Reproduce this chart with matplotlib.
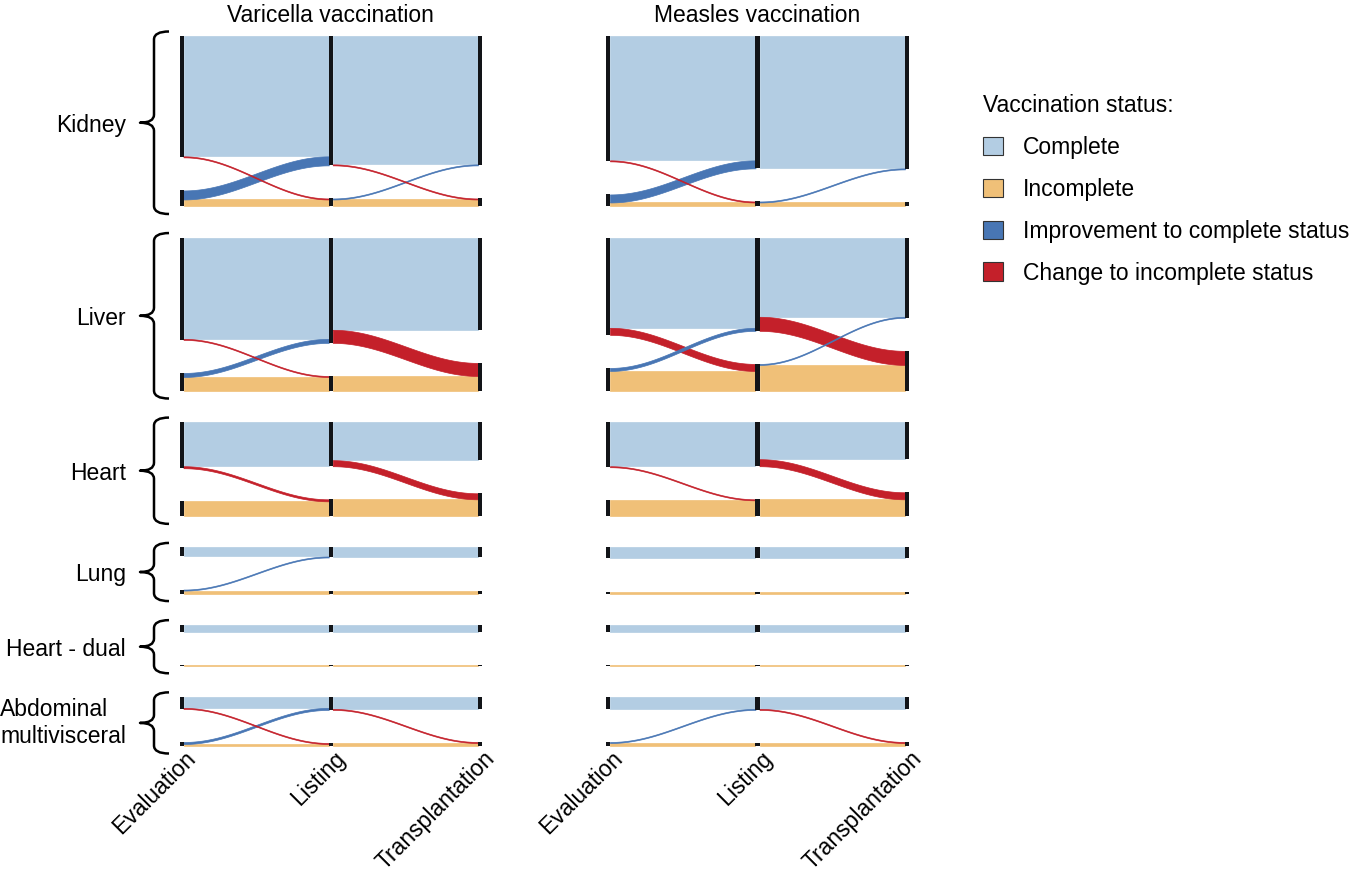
import numpy as np
import matplotlib
matplotlib.use("Agg")
import matplotlib.pyplot as plt
from matplotlib.path import Path
from matplotlib.patches import PathPatch, Patch

plt.rcParams['font.family'] = ['Liberation Sans', 'DejaVu Sans']

# ---------------- data ----------------
organs = ["Kidney", "Liver", "Heart", "Lung", "Heart - dual", "Abdominal\nmultivisceral"]
stages = ["Evaluation", "Listing", "Transplantation"]
vaccines = ["Varicella vaccination", "Measles vaccination"]
status_labels = ["Complete", "Incomplete", "Improvement to complete status",
                 "Change to incomplete status"]

# flows per organ: [complete->complete, complete->incomplete,
#                   incomplete->complete, incomplete->incomplete]
varicella_eval_to_listing = [[120, 1, 9, 7], [101, 1, 4, 14], [44, 2, 0, 15],
                             [9, 0, 1, 3], [7, 0, 0, 1], [11, 1, 2, 2]]
varicella_listing_to_tx = [[128, 1, 1, 7], [92, 13, 0, 15], [38, 6, 0, 17],
                           [10, 0, 0, 3], [7, 0, 0, 1], [12, 1, 0, 3]]
measles_eval_to_listing = [[124, 1, 8, 4], [90, 7, 3, 20], [44, 1, 0, 16],
                           [11, 0, 0, 2], [7, 0, 0, 1], [12, 0, 1, 3]]
measles_listing_to_tx = [[132, 0, 1, 4], [79, 14, 1, 26], [37, 7, 0, 17],
                         [11, 0, 0, 2], [7, 0, 0, 1], [12, 1, 0, 3]]

C_COMPLETE = "#B3CDE3"
C_INCOMPLETE = "#F0C078"
C_IMPROVE = "#4876B4"
C_WORSE = "#C4202A"
C_BAR = "#121418"

# ---------------- layout ----------------
STRATUM_GAP = 33
BLOCK_GAP = 31
FS = 16.5
W, H = 1355, 874

N = [sum(r) for r in varicella_eval_to_listing]
block_top = []
yy = 0
for n in N:
    block_top.append(yy)
    yy += n + STRATUM_GAP + BLOCK_GAP
total = yy - BLOCK_GAP

fig = plt.figure(figsize=(W / 100, H / 100), dpi=100)
px_top, px_bot = 36, 746

panel_px = [(181.5, 480.0), (608.0, 907.0)]
axes = []
for (x0p, x2p) in panel_px:
    unit = (x2p - x0p) / 2
    left = x0p - 0.05 * unit
    width = 2.1 * unit
    ax = fig.add_axes([left / W, 1 - px_bot / H, width / W, (px_bot - px_top) / H])
    ax.set_xlim(-0.05, 2.05)
    ax.set_ylim(total, 0)
    ax.axis('off')
    axes.append(ax)

BAR_W = 4 / 149.25
t = np.linspace(0, 1, 120)
sig = (1 - np.cos(np.pi * t)) / 2


def draw_flow(ax, xa, xb, ya, yb, h, color, z):
    if h <= 0:
        return
    xs = xa + (xb - xa) * t
    top = ya + (yb - ya) * sig
    ax.fill_between(xs, top, top + h, facecolor=color, edgecolor=color,
                    linewidth=0.5, zorder=z)


def draw_transition(ax, s, flows):
    xa = s + BAR_W / 2
    xb = s + 1 - BAR_W / 2
    for k, (cc, ci, ic, ii) in enumerate(flows):
        y0 = block_top[k]
        C_src = cc + ci
        C_tgt = cc + ic
        inc_src = y0 + C_src + STRATUM_GAP
        inc_tgt = y0 + C_tgt + STRATUM_GAP
        draw_flow(ax, xa, xb, y0, y0, cc, C_COMPLETE, 1)
        draw_flow(ax, xa, xb, inc_src + ic, inc_tgt + ci, ii, C_INCOMPLETE, 1)
        z_ci, z_ic = (3, 2) if ci <= ic else (2, 3)
        draw_flow(ax, xa, xb, y0 + cc, inc_tgt, ci, C_WORSE, z_ci)
        draw_flow(ax, xa, xb, inc_src, y0 + cc, ic, C_IMPROVE, z_ic)


def draw_bars(ax, t1, t2):
    for k in range(len(organs)):
        y0 = block_top[k]
        comp = [t1[k][0] + t1[k][1], t1[k][0] + t1[k][2], t2[k][0] + t2[k][2]]
        for s, c in enumerate(comp):
            inc = N[k] - c
            if c > 0:
                ax.bar(s, c, bottom=y0, width=BAR_W, color=C_BAR, zorder=5,
                       linewidth=0)
            if inc > 0:
                ax.bar(s, inc, bottom=y0 + c + STRATUM_GAP, width=BAR_W,
                       color=C_BAR, zorder=5, linewidth=0)


data = [(varicella_eval_to_listing, varicella_listing_to_tx),
        (measles_eval_to_listing, measles_listing_to_tx)]

for ax, name, (t1, t2) in zip(axes, vaccines, data):
    draw_transition(ax, 0, t1)
    draw_transition(ax, 1, t2)
    draw_bars(ax, t1, t2)
    ax.text(1, -20, name, ha='center', va='center', fontsize=FS, clip_on=False)
    for s, lab in enumerate(stages):
        ax.text(s + 0.019, total + 1, lab, rotation=45, ha='right', va='top',
                rotation_mode='anchor', fontsize=FS, clip_on=False)

# braces and organ labels on the left panel
axL = axes[0]
unitL = (panel_px[0][1] - panel_px[0][0]) / 2
xv = (154 - panel_px[0][0]) / unitL
xh = (169 - panel_px[0][0]) / unitL
xt = (140 - panel_px[0][0]) / unitL
xlab = (126 - panel_px[0][0]) / unitL
R = 8
for k, org in enumerate(organs):
    bmid = block_top[k] + (N[k] + STRATUM_GAP) / 2 + 1.5
    half = (N[k] + STRATUM_GAP) / 2 + 6
    top, bot, mid = bmid - half, bmid + half, bmid
    verts = [(xh, top), (xv, top), (xv, top + R), (xv, mid - R), (xv, mid),
             (xt, mid), (xv, mid), (xv, mid + R), (xv, bot - R), (xv, bot),
             (xh, bot)]
    codes = [Path.MOVETO, Path.CURVE3, Path.CURVE3, Path.LINETO, Path.CURVE3,
             Path.CURVE3, Path.CURVE3, Path.CURVE3, Path.LINETO, Path.CURVE3,
             Path.CURVE3]
    axL.add_patch(PathPatch(Path(verts, codes), facecolor='none',
                            edgecolor='black', linewidth=1.8, clip_on=False,
                            capstyle='butt', joinstyle='round'))
    va = 'center' if '\n' in org else 'center_baseline'
    axL.text(xlab, mid, org, ha='right', va=va, fontsize=FS,
             multialignment='left', clip_on=False)

# legend
handles = [Patch(facecolor=c, edgecolor='#333333', linewidth=0.8)
           for c in [C_COMPLETE, C_INCOMPLETE, C_IMPROVE, C_WORSE]]
fig.legend(handles, status_labels, loc='upper left',
           bbox_to_anchor=(983 / W, 1 - 94 / H), frameon=False,
           title='Vaccination status:', alignment='left', fontsize=FS,
           title_fontsize=FS, handlelength=0.87, handleheight=0.87,
           handletextpad=0.87, labelspacing=0.825, borderaxespad=0,
           borderpad=0)

fig.savefig("out.png", dpi=100)
